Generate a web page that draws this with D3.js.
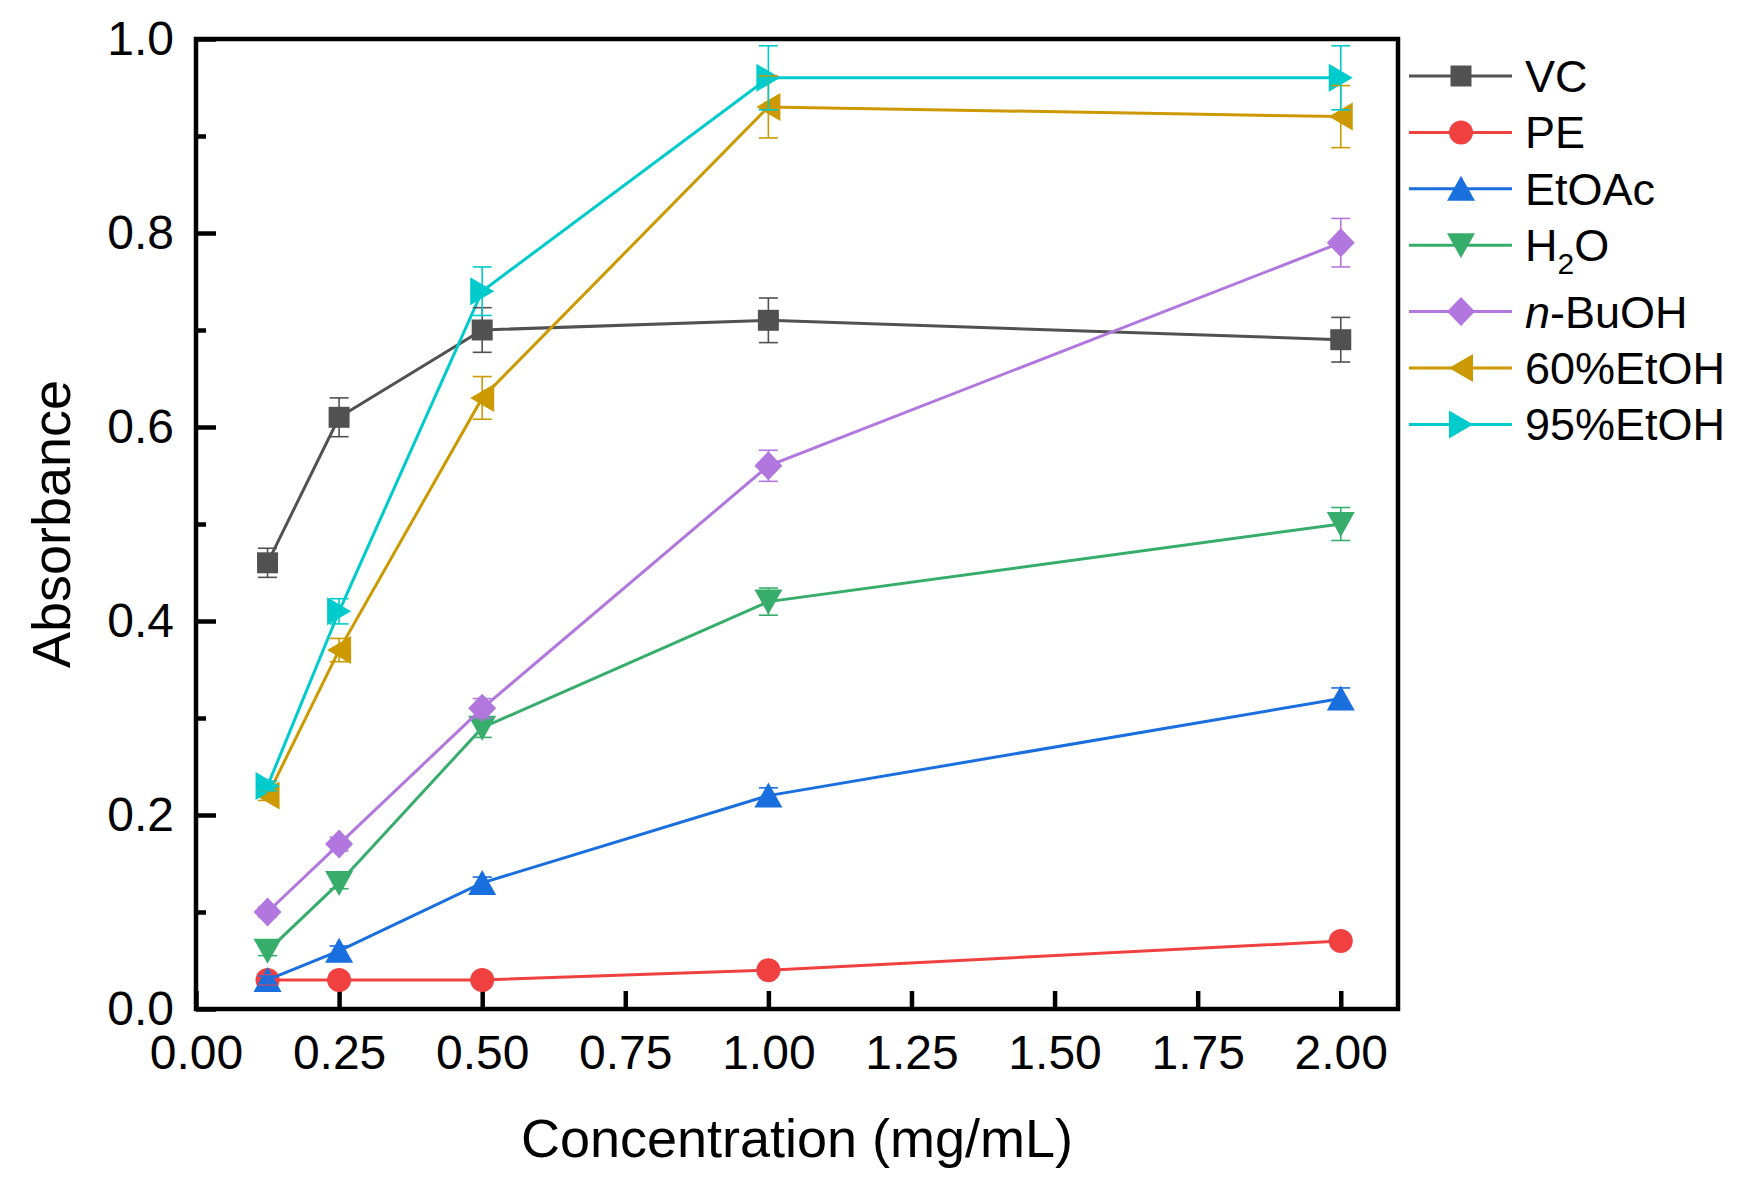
<!DOCTYPE html>
<html>
<head>
<meta charset="utf-8">
<script src="https://cdn.jsdelivr.net/npm/d3@7"></script>
<style>
  body { margin: 0; background: #fff; }
  svg { display: block; font-family: Arial, "Liberation Sans", sans-serif; }
  .axis text { font-family: Arial, "Liberation Sans", sans-serif; fill: #000; }
</style>
</head>
<body>
<div id="chart"></div>
<script>
//////////////////////////////////////////////
// Data //////////////////////////////////////
//////////////////////////////////////////////
var conc = [0.125, 0.25, 0.5, 1, 2];   // mg/mL

var seriesNames = ["VC", "PE", "EtOAc", "H2O", "n-BuOH", "60%EtOH", "95%EtOH"];

var vcVals     = [0.46, 0.61, 0.70, 0.71, 0.69];
var vcErr      = [0.015, 0.020, 0.023, 0.023, 0.023];
var peVals     = [0.03, 0.03, 0.03, 0.04, 0.07];
var peErr      = [0.005, 0.004, 0.004, 0.004, 0.005];
var etoacVals  = [0.03, 0.06, 0.13, 0.22, 0.32];
var etoacErr   = [0.004, 0.005, 0.006, 0.008, 0.011];
var h2oVals    = [0.06, 0.13, 0.29, 0.42, 0.50];
var h2oErr     = [0.005, 0.006, 0.010, 0.014, 0.017];
var buohVals   = [0.10, 0.17, 0.31, 0.56, 0.79];
var buohErr    = [0.005, 0.007, 0.010, 0.016, 0.025];
var etoh60Vals = [0.22, 0.37, 0.63, 0.93, 0.92];
var etoh60Err  = [0.005, 0.012, 0.022, 0.032, 0.032];
var etoh95Vals = [0.23, 0.41, 0.74, 0.96, 0.96];
var etoh95Err  = [0.005, 0.013, 0.025, 0.033, 0.033];

var xTicks = [0, 0.25, 0.5, 0.75, 1, 1.25, 1.5, 1.75, 2];
var yTicks = [0, 0.2, 0.4, 0.6, 0.8, 1.0];
var yMinorTicks = [0.1, 0.3, 0.5, 0.7, 0.9];

// Origin style colours / markers
var colors  = ["#515151", "#F14040", "#1A6FDF", "#37AD6B", "#B177DE", "#CC9900", "#00CBCC"];
var markers = ["square", "circle", "up", "down", "diamond", "left", "right"];

var allVals = [vcVals, peVals, etoacVals, h2oVals, buohVals, etoh60Vals, etoh95Vals];
var allErr  = [vcErr, peErr, etoacErr, h2oErr, buohErr, etoh60Err, etoh95Err];

var series = seriesNames.map(function(name, i) {
  return {
    name: name,
    color: colors[i],
    marker: markers[i],
    points: conc.map(function(c, j) { return {x: c, y: allVals[i][j], e: allErr[i][j]}; })
  };
});

//////////////////////////////////////////////
// Chart Config //////////////////////////////
//////////////////////////////////////////////
var W = 1746, H = 1192;
var plot = {left: 196, right: 1398, top: 39, bottom: 1009};

var xScale = d3.scaleLinear().domain([0, 2.1]).range([plot.left, plot.right]);
var yScale = d3.scaleLinear().domain([0, 1]).range([plot.bottom, plot.top]);

var svg = d3.select("#chart").append("svg")
  .attr("width", W)
  .attr("height", H);

// marker paths (centred on 0,0)
function markerPath(type) {
  switch (type) {
    case "square":  return "M-10.5,-10.5H10.5V10.5H-10.5Z";
    case "circle":  return "M12,0A12,12 0 1,1 -12,0A12,12 0 1,1 12,0Z";
    case "up":      return "M0,-13L14,12L-14,12Z";
    case "down":    return "M0,13L14,-12L-14,-12Z";
    case "diamond": return "M0,-14.5L14,0L0,14.5L-14,0Z";
    case "left":    return "M-12,0L12,-14L12,14Z";
    case "right":   return "M12,0L-12,-14L-12,14Z";
  }
}

//////////////////////////////////////////////
// Axes //////////////////////////////////////
//////////////////////////////////////////////
var xAxis = d3.axisBottom(xScale)
  .tickValues(xTicks)
  .tickFormat(d3.format(".2f"))
  .tickSize(-18)
  .tickPadding(26);

var yAxis = d3.axisLeft(yScale)
  .tickValues(yTicks)
  .tickFormat(d3.format(".1f"))
  .tickSize(-20)
  .tickPadding(22);

var yAxisMinor = d3.axisLeft(yScale)
  .tickValues(yMinorTicks)
  .tickFormat("")
  .tickSize(-10);

svg.append("g")
  .attr("class", "x axis")
  .attr("transform", "translate(0," + plot.bottom + ")")
  .call(xAxis);

svg.append("g")
  .attr("class", "y axis")
  .attr("transform", "translate(" + plot.left + ",0)")
  .call(yAxis);

svg.append("g")
  .attr("class", "y axis minor")
  .attr("transform", "translate(" + plot.left + ",0)")
  .call(yAxisMinor);

svg.selectAll(".axis .domain").remove();
svg.selectAll(".axis line").attr("stroke", "#000").attr("stroke-width", 4.5);
svg.selectAll(".axis text").attr("font-size", 48);

// frame
svg.append("rect")
  .attr("x", plot.left)
  .attr("y", plot.top)
  .attr("width", plot.right - plot.left)
  .attr("height", plot.bottom - plot.top)
  .attr("fill", "none")
  .attr("stroke", "#000")
  .attr("stroke-width", 4.5);

// axis titles
svg.append("text")
  .attr("x", (plot.left + plot.right) / 2)
  .attr("y", 1157)
  .attr("text-anchor", "middle")
  .attr("font-size", 54)
  .text("Concentration (mg/mL)");

svg.append("text")
  .attr("transform", "translate(70," + (plot.top + plot.bottom) / 2 + ") rotate(-90)")
  .attr("text-anchor", "middle")
  .attr("font-size", 54)
  .text("Absorbance");

//////////////////////////////////////////////
// Drawing ///////////////////////////////////
//////////////////////////////////////////////
var line = d3.line()
  .x(function(d) { return xScale(d.x); })
  .y(function(d) { return yScale(d.y); });

var capHalf = 9.5;

// lines + markers, one series after the other
series.forEach(function(s) {
  var g = svg.append("g").attr("class", "series");

  g.append("path")
    .datum(s.points)
    .attr("d", line)
    .attr("fill", "none")
    .attr("stroke", s.color)
    .attr("stroke-width", 3);

  g.selectAll(".mk").data(s.points).enter().append("path")
    .attr("class", "mk")
    .attr("d", markerPath(s.marker))
    .attr("transform", function(d) { return "translate(" + xScale(d.x) + "," + yScale(d.y) + ")"; })
    .attr("fill", s.color);
});

// error bars sit on top of everything (as in Origin)
var errLayer = svg.append("g").attr("class", "errors");
series.forEach(function(s) {
  var eb = errLayer.selectAll(null).data(s.points).enter().append("g")
    .attr("stroke", s.color)
    .attr("stroke-width", 1.6);
  eb.append("line")
    .attr("x1", function(d) { return xScale(d.x); })
    .attr("x2", function(d) { return xScale(d.x); })
    .attr("y1", function(d) { return yScale(d.y - d.e); })
    .attr("y2", function(d) { return yScale(d.y + d.e); });
  eb.append("line")
    .attr("x1", function(d) { return xScale(d.x) - capHalf; })
    .attr("x2", function(d) { return xScale(d.x) + capHalf; })
    .attr("y1", function(d) { return yScale(d.y + d.e); })
    .attr("y2", function(d) { return yScale(d.y + d.e); });
  eb.append("line")
    .attr("x1", function(d) { return xScale(d.x) - capHalf; })
    .attr("x2", function(d) { return xScale(d.x) + capHalf; })
    .attr("y1", function(d) { return yScale(d.y - d.e); })
    .attr("y2", function(d) { return yScale(d.y - d.e); });
});

//////////////////////////////////////////////
// Legend ////////////////////////////////////
//////////////////////////////////////////////
var legend = svg.append("g").attr("class", "legend");
var legX1 = 1409, legX2 = 1512, legMk = 1461, legText = 1525;

series.forEach(function(s, i) {
  var cy = 76 + i * 56.4 + (i >= 4 ? 10 : 0);
  var row = legend.append("g");
  row.append("line")
    .attr("x1", legX1).attr("x2", legX2)
    .attr("y1", cy).attr("y2", cy)
    .attr("stroke", s.color)
    .attr("stroke-width", 3);
  row.append("path")
    .attr("d", markerPath(s.marker))
    .attr("transform", "translate(" + legMk + "," + cy + ")")
    .attr("fill", s.color);

  var t = row.append("text")
    .attr("x", legText)
    .attr("y", cy + 16)
    .attr("font-size", 45);
  if (s.name === "H2O") {
    t.append("tspan").text("H");
    t.append("tspan").attr("font-size", 30).attr("dy", 13).text("2");
    t.append("tspan").attr("dy", -13).text("O");
  } else if (s.name === "n-BuOH") {
    t.append("tspan").attr("font-style", "italic").text("n");
    t.append("tspan").text("-BuOH");
  } else {
    t.text(s.name);
  }
});
</script>
</body>
</html>
